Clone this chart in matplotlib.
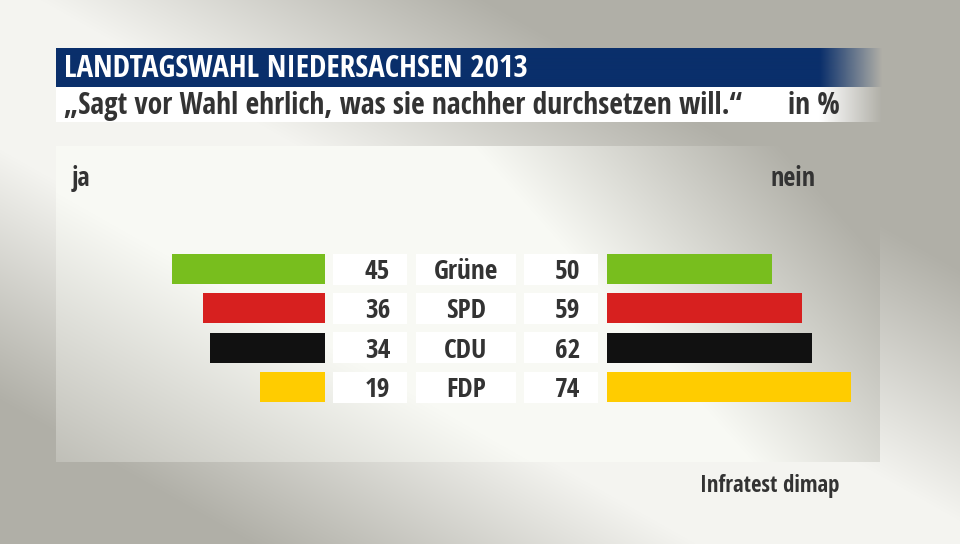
import numpy as np
import matplotlib
matplotlib.use('Agg')
import matplotlib.pyplot as plt
from matplotlib import font_manager as fm

# ---------------- data ----------------
parties = ['Grüne', 'SPD', 'CDU', 'FDP']
ja = [45, 36, 34, 19]
nein = [50, 59, 62, 74]
colors = ['#78be1e', '#d7201f', '#111111', '#ffcc00']
title = 'LANDTAGSWAHL NIEDERSACHSEN 2013'
subtitle = '„Sagt vor Wahl ehrlich, was sie nachher durchsetzen will.“'
unit_label = 'in %'
left_head = 'ja'
right_head = 'nein'
source = 'Infratest dimap'

# ---------------- fonts ----------------
entries = fm.fontManager.ttflist
names = {f.name for f in entries}
if 'Open Sans Condensed' in names:
    FP = dict(family='Open Sans Condensed', weight='bold')
elif any(f.name == 'DejaVu Sans' and f.stretch == 'condensed' for f in entries):
    FP = dict(family='DejaVu Sans', stretch='condensed', weight='bold')
elif 'Liberation Sans Narrow' in names:
    FP = dict(family='Liberation Sans Narrow', weight='bold')
else:
    FP = dict(family='Open Sans', weight='bold')

W, H = 960, 544
fig = plt.figure(figsize=(9.6, 5.44), dpi=100)
bg = fig.add_axes([0, 0, 1, 1])
bg.axis('off')


def ramp(x, a, b):
    return np.clip((x - a) / (b - a), 0, 1)


xx, yy = np.meshgrid(np.arange(W) + 0.5, np.arange(H) + 0.5)
# signed distance to the picture diagonal (positive = above / right)
s = (xx * H - yy * W) / np.hypot(W, H)

# outer background
t_out = np.maximum(ramp(s, 20, 240), ramp(-s, 130, 350))
light_o = np.array([0xf4, 0xf4, 0xf0]) / 255
dark = np.array([0xb0, 0xaf, 0xa7]) / 255
img = light_o + (dark - light_o) * t_out[..., None]

# lighter panel
P_L, P_R, P_T, P_B = 56, 880, 146, 462
v = xx / W - 0.5 * yy / H
t_pan = np.maximum(ramp(v, 0.36, 0.68), ramp(-s, 140, 440))
light_p = np.array([0xf8, 0xf9, 0xf4]) / 255
pan = light_p + (dark - light_p) * t_pan[..., None]
mask = (xx >= P_L) & (xx < P_R) & (yy >= P_T) & (yy < P_B)
img[mask] = pan[mask]
bg.imshow(img, extent=[0, W, H, 0], aspect='auto', zorder=0, interpolation='bilinear')

# title band and subtitle band fading to the right
BAND_L, FADE_S, BAND_R = 56, 820, 882
xs = np.arange(BAND_L, BAND_R) + 0.5
alpha = 1 - ramp(xs, FADE_S, BAND_R)
blue = np.zeros((1, len(xs), 4))
blue[..., :3] = np.array([0x0a, 0x2f, 0x6b]) / 255
blue[..., 3] = alpha
bg.imshow(blue, extent=[BAND_L, BAND_R, 87.5, 49], aspect='auto', zorder=2, interpolation='bilinear')
white = np.ones((1, len(xs), 4))
white[..., 3] = alpha
bg.imshow(white, extent=[BAND_L, BAND_R, 122.5, 88], aspect='auto', zorder=2, interpolation='bilinear')
bg.set_xlim(0, W)
bg.set_ylim(H, 0)

renderer = fig.canvas.get_renderer()


def measure_size(txt, target_w, size0=16):
    tx = bg.text(0, 0, txt, fontsize=size0, **FP)
    w = tx.get_window_extent(renderer).width
    tx.remove()
    return size0 * target_w / w


def put(x, y, txt, size, ha='left', color='#333333'):
    return bg.text(x, y, txt, ha=ha, va='baseline', color=color, fontsize=size, zorder=5, **FP)


put(64, 77, title, measure_size(title, 463), color='white')
sub_size = measure_size(subtitle, 681)
put(64, 114, subtitle, sub_size)
put(840, 114, unit_label, sub_size, ha='right')

head_size = measure_size(right_head, 45)
put(72, 186, left_head, head_size)
put(815, 186, right_head, head_size, ha='right')

put(840, 492.5, source, measure_size(source, 140), ha='right')

# ---------------- bars ----------------
ROW0, PITCH, BAR_H = 269.0, 39.4, 30.0
n = len(parties)
ax_top = ROW0 - PITCH / 2
ax_h = PITCH * n

LEFT_R, LEFT_SCALE = 324.5, 3.38
RIGHT_L, RIGHT_SCALE = 607.0, 3.30

axL = fig.add_axes([P_L / W, 1 - (ax_top + ax_h) / H, (LEFT_R - P_L) / W, ax_h / H])
axL.barh(range(n), ja, height=BAR_H / PITCH, color=colors, zorder=3)
axL.set_xlim((LEFT_R - P_L) / LEFT_SCALE, 0)
axL.set_ylim(n - 0.5, -0.5)
axL.axis('off')
axL.patch.set_alpha(0)

axR = fig.add_axes([RIGHT_L / W, 1 - (ax_top + ax_h) / H, (P_R - RIGHT_L) / W, ax_h / H])
axR.barh(range(n), nein, height=BAR_H / PITCH, color=colors, zorder=3)
axR.set_xlim(0, (P_R - RIGHT_L) / RIGHT_SCALE)
axR.set_ylim(n - 0.5, -0.5)
axR.axis('off')
axR.patch.set_alpha(0)

# white label boxes and their texts
num_size = measure_size('Grüne', 65)
boxes = [(333, 407), (416, 516), (524, 598)]
for i in range(n):
    yc = ROW0 + i * PITCH
    for (x0, x1) in boxes:
        bg.add_patch(plt.Rectangle((x0, yc - BAR_H / 2 - 0.5), x1 - x0, BAR_H + 1,
                                   facecolor='white', edgecolor='none', zorder=3))
    base = yc + 9.7
    put(390, base, str(ja[i]), num_size, ha='right')
    put(466, base, parties[i], num_size, ha='center')
    put(580, base, str(nein[i]), num_size, ha='right')

fig.savefig('out.png', dpi=100)
